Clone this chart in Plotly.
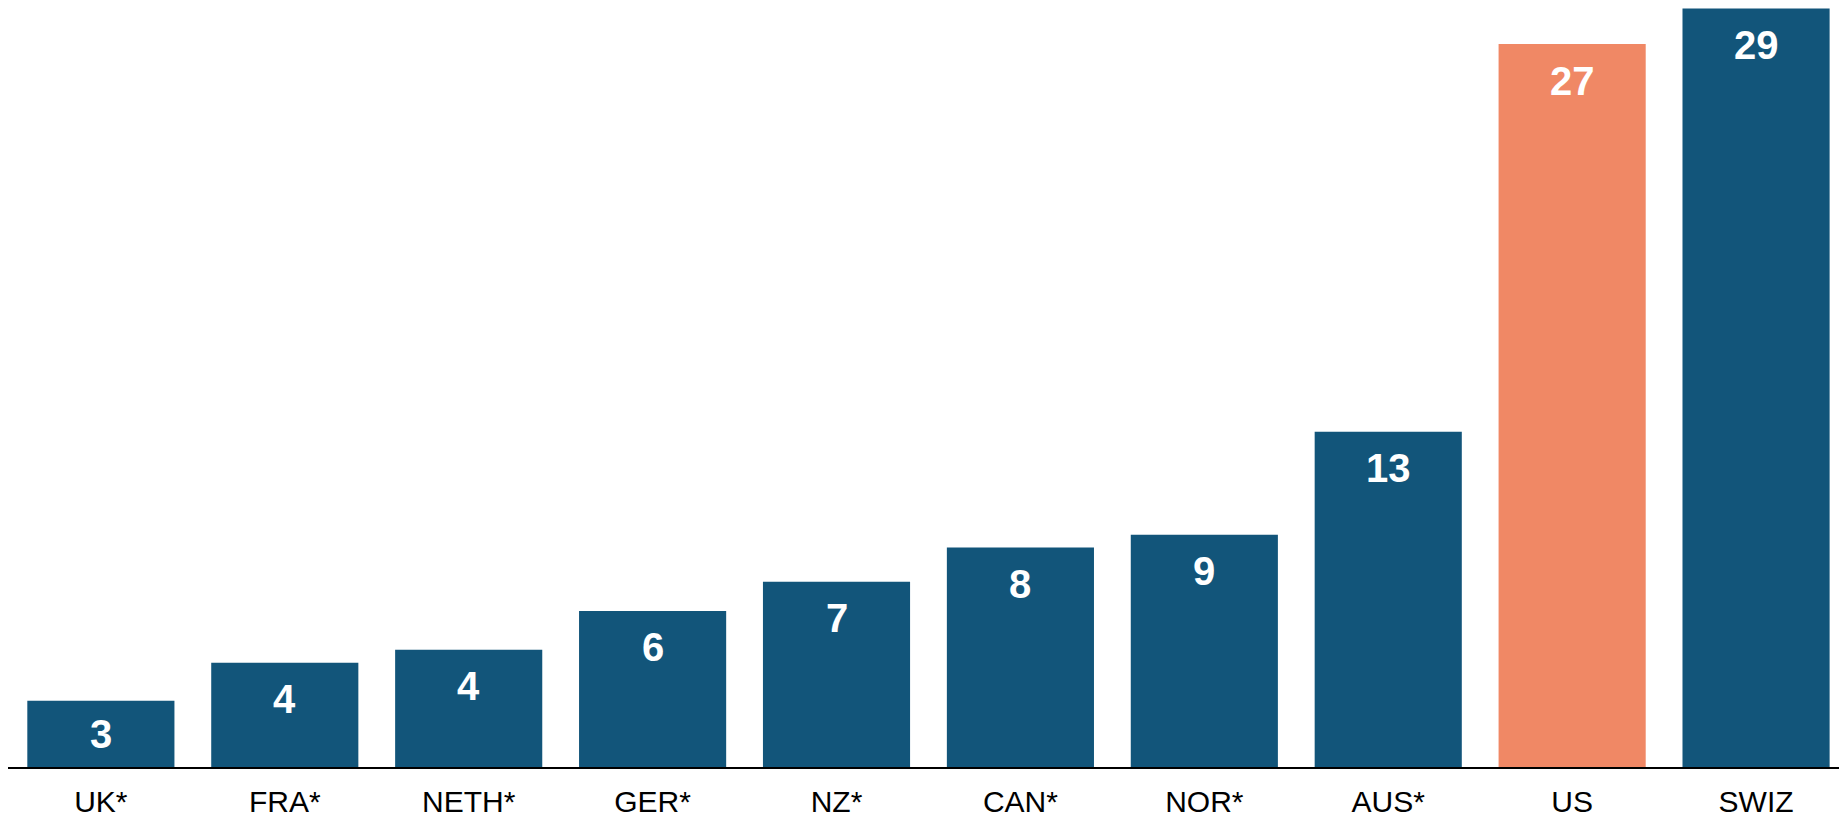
import plotly.graph_objects as go

# Country codes and their values
countries = ["UK*", "FRA*", "NETH*", "GER*", "NZ*", "CAN*", "NOR*", "AUS*", "US", "SWIZ"]
values = [2.51, 3.95, 4.44, 5.91, 7.02, 8.31, 8.80, 12.70, 27.38, 28.73]
highlight = "US"

BLUE = "#12557a"
ORANGE = "#f08865"

W, H = 1839, 818
M_L, M_R, M_T, M_B = 8, 0, 0, 51
Y_MAX = 29.05
px_per_unit = (H - M_T - M_B) / Y_MAX

colors = [ORANGE if c == highlight else BLUE for c in countries]

fig = go.Figure(
    go.Bar(
        x=countries,
        y=values,
        marker=dict(color=colors, line=dict(width=0)),
        hoverinfo="skip",
    )
)

# Value labels: near the top of each bar, centred when the bar is short
label_drop = 36.5 / px_per_unit
for c, v in zip(countries, values):
    fig.add_annotation(
        x=c,
        y=max(v - label_drop, v / 2),
        text=f"{v:.0f}",
        showarrow=False,
        yanchor="middle",
        font=dict(family="Liberation Sans, Arial, sans-serif", size=40, color="white", weight="bold"),
    )

fig.update_layout(
    width=W,
    height=H,
    margin=dict(l=M_L, r=M_R, t=M_T, b=M_B, autoexpand=False),
    paper_bgcolor="white",
    plot_bgcolor="white",
    bargap=0.2,
    showlegend=False,
    xaxis=dict(
        range=[-0.505, 9.451],
        automargin=False,
        showline=True,
        linecolor="black",
        linewidth=2,
        showgrid=False,
        ticks="",
        tickfont=dict(family="Liberation Sans, Arial, sans-serif", size=30, color="black"),
        ticklabelstandoff=7,
        fixedrange=True,
    ),
    yaxis=dict(
        range=[0, Y_MAX],
        visible=False,
        showgrid=False,
        zeroline=False,
        fixedrange=True,
    ),
)

fig.write_html("out.html")
